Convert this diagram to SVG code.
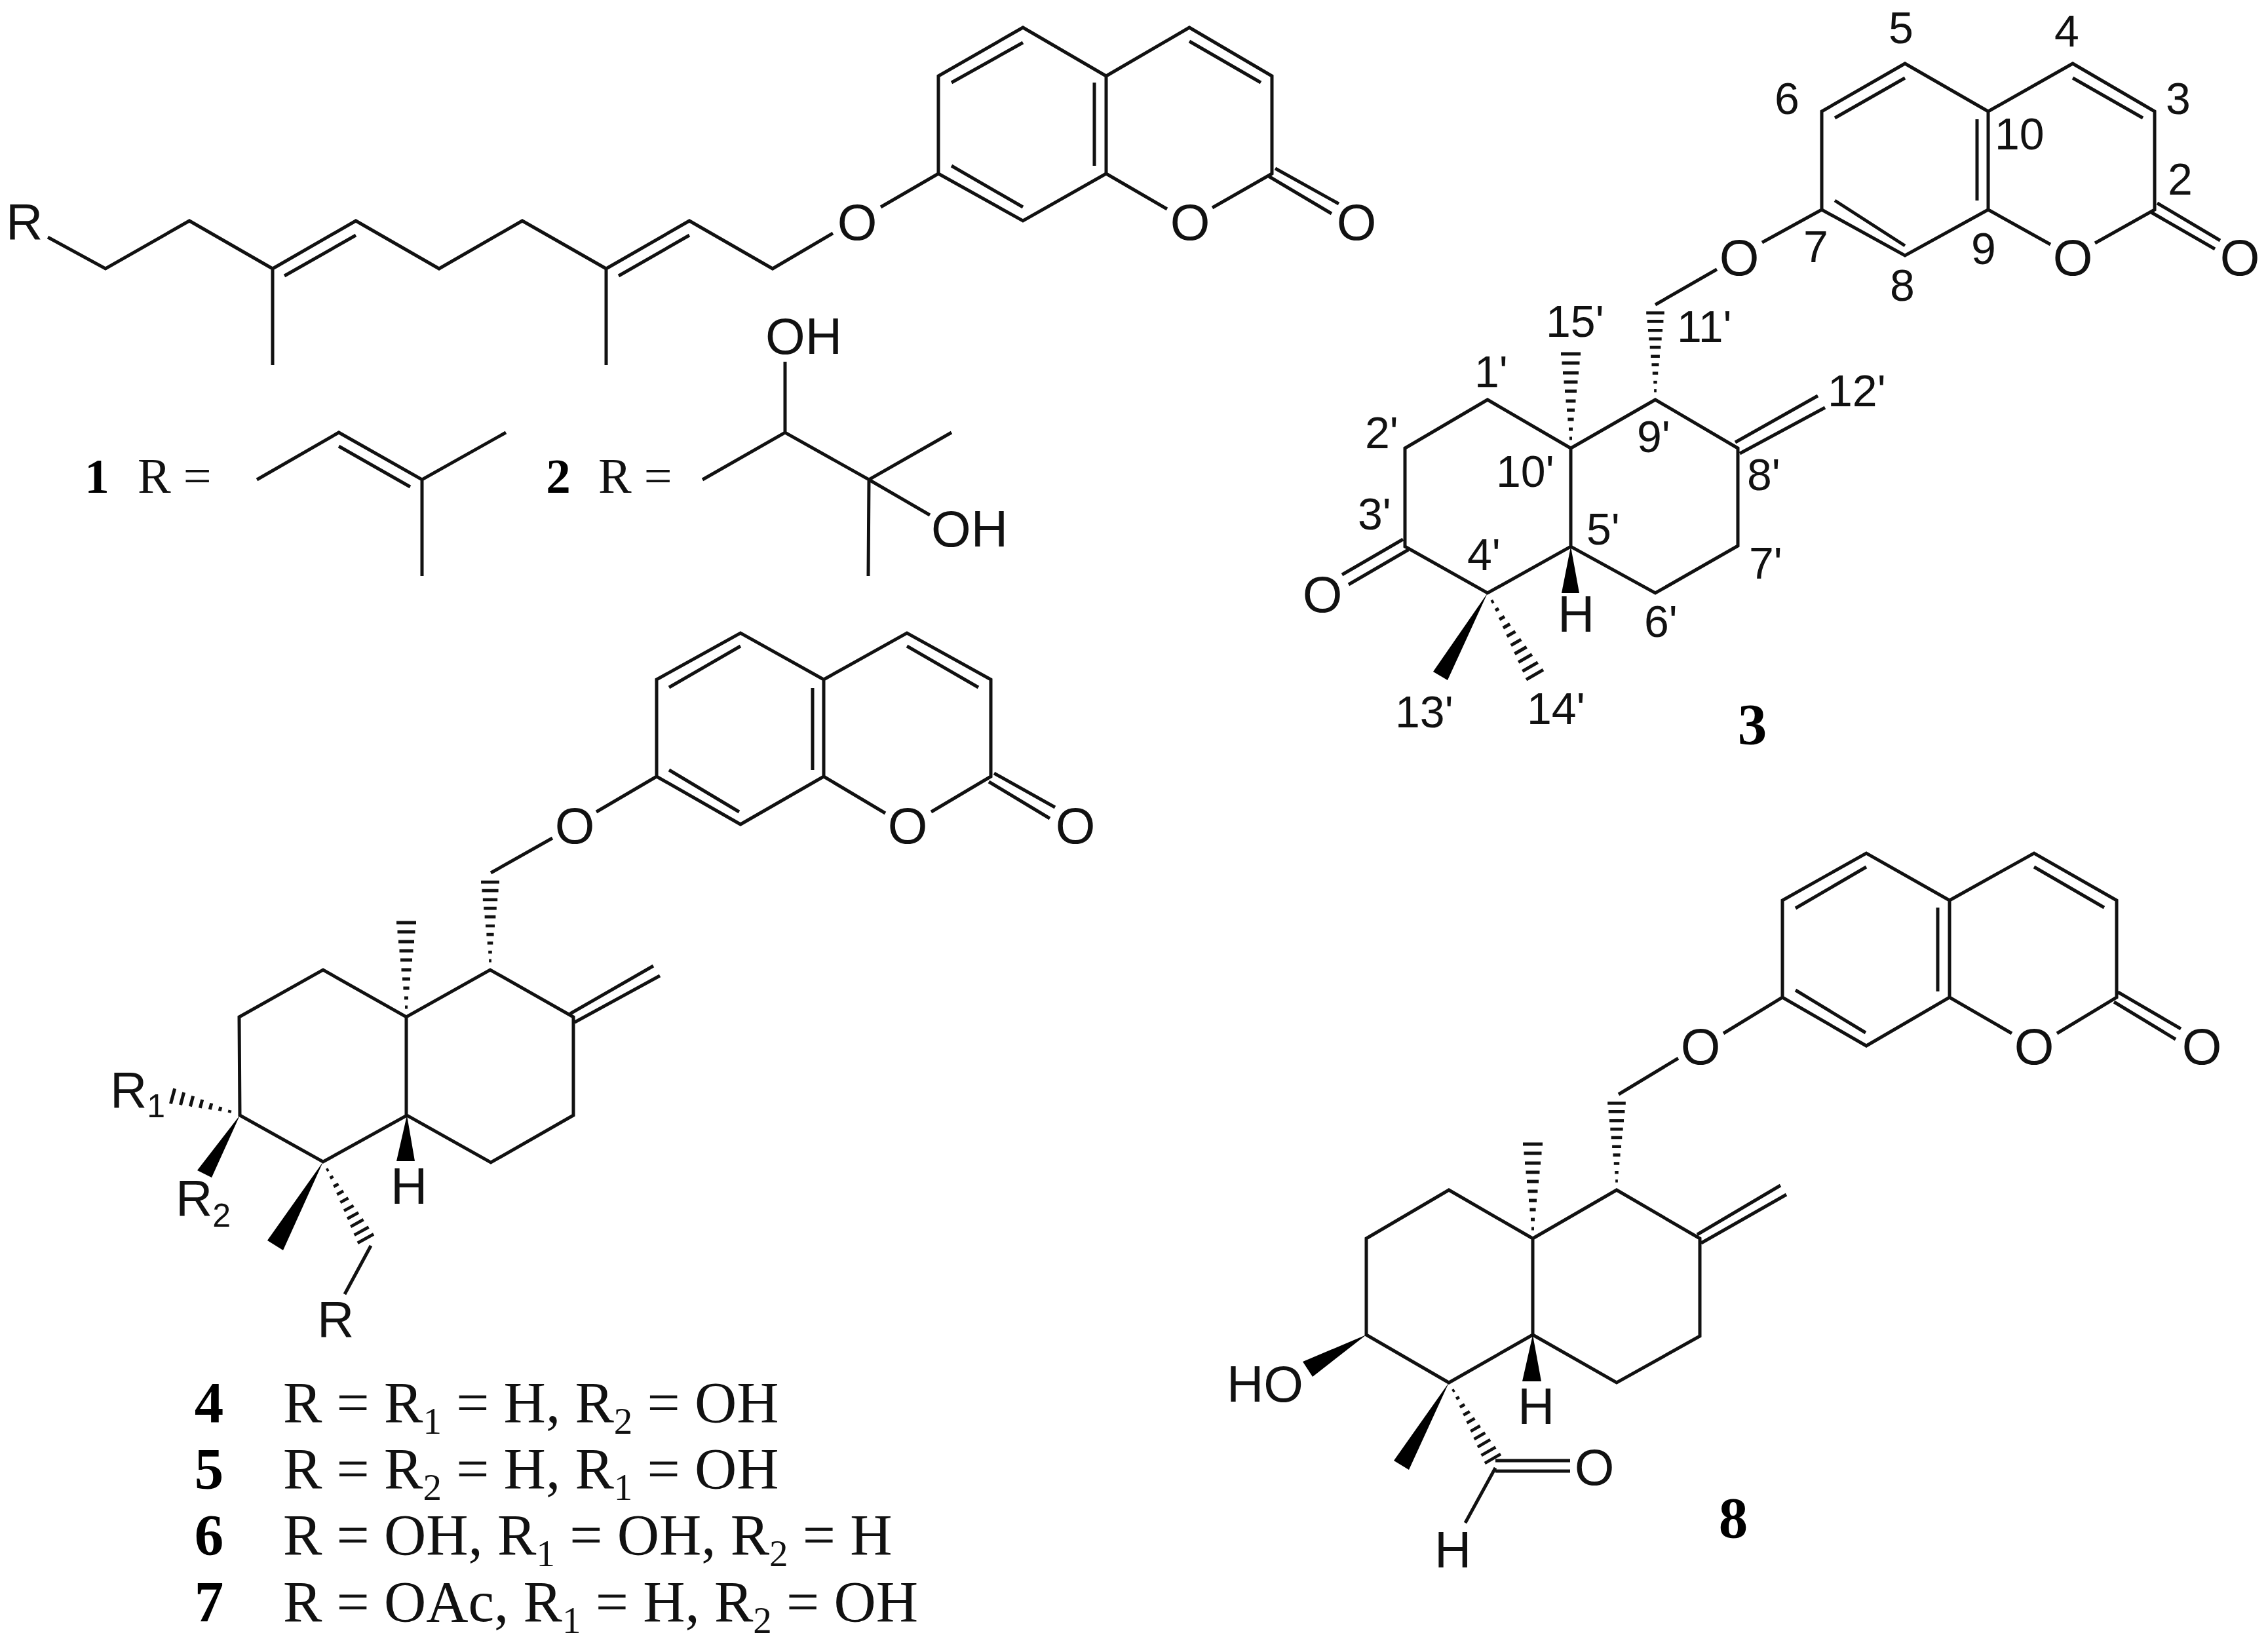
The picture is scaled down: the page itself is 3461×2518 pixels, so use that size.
<svg xmlns="http://www.w3.org/2000/svg" xmlns:xlink="http://www.w3.org/1999/xlink" width="3461" height="2518" viewBox="0 0 3461 2518">
<style>
.b{fill:none;stroke:#111;stroke-width:5;stroke-linejoin:miter}
.w{fill:#000;stroke:none}
.a{font-family:"Liberation Sans",Arial,sans-serif;font-size:78px;fill:#111}
.n{font-family:"Liberation Sans",Arial,sans-serif;font-size:68px;fill:#111}
.m{text-anchor:middle}
.s{font-family:"Liberation Serif","Times New Roman",serif;font-size:89px;fill:#111}
.d{font-family:"Liberation Serif","Times New Roman",serif;font-weight:bold;font-size:89px;fill:#000;text-anchor:middle}
.sub{font-size:57px}
.sb{font-size:50px}
</style>
<defs>
<path id="hash" class="b" d="M-2 -15H2M-3 -29H3M-4.6 -44H4.6M-6 -58H6M-7.5 -72H7.5M-9 -87H9M-10.5 -101H10.5M-12 -115H12M-13.5 -130H13.5M-15 -144H15"/>
<path id="hash7" class="b" d="M-2 -15H2M-3.3 -30H3.3M-5 -45H5M-6.6 -60H6.6M-8.2 -75H8.2M-9.9 -90H9.9M-12 -105H12"/>
</defs>
<rect width="3461" height="2518" fill="#fff"/>
<g id="connectors">
<g id="bonds-1-2">
<path class="b" d="M73 362L161 410L289 337L416 410L543 337L670 410L797 337L925 410L1052 337L1179 410L1271 356M416 410V557M925 410V557M434 421L543 359M944 421L1052 359"/>
<path class="b" d="M1344 316L1432 265V116L1561 42L1688 116V265L1561 337L1432 265M1688 116L1815 42L1941 116V265L1850 317M1688 265L1781 319M1452 126L1561 65M1924 126L1815 63M1670 126V253M1452 253L1561 316M1946 257L2043 311M1936 269L2032 326"/>
<path class="b" d="M392 732L517 660L644 732L772 660M644 732V879M517 681L626 743"/>
<path class="b" d="M1072 732L1198 660L1326 732L1452 660M1198 552V660M1326 732L1419 786M1326 732L1325 879"/>
</g>
<g id="bonds-3">
<path class="b" d="M2689 370L2780 320V170L2907 97L3034 170V320L2907 390L2780 320M3034 170L3163 97L3288 170V320L3197 371M3034 320L3129 373M2800 180L2907 119M3270 180L3163 119M3017 182V306M2800 306L2907 375M3292 310L3388 367M3281 323L3380 380M2526 465L2620 411"/>
<path class="b" d="M2144 684L2270 610L2397 684L2526 610L2652 684V833L2526 905L2397 834L2270 905L2144 834ZM2397 684V834M2648 675L2774 604M2655 692L2785 622M2141 823L2048 877M2149 839L2058 892"/>
<use xlink:href="#hash" href="#hash" transform="translate(2526 610) scale(.92)"/>
<use xlink:href="#hash" href="#hash" transform="translate(2397 684)"/>
<use xlink:href="#hash" href="#hash" transform="translate(2270 905) rotate(150)"/>
<polygon class="w" points="2397,834 2383,905 2410,905"/>
<polygon class="w" points="2270,905 2187,1025 2209,1038"/>
</g>
<g id="bonds-4-7">
<path class="b" d="M843 1279L749 1332M910 1239L1002 1185V1037L1130 966L1257 1037V1185L1130 1258L1002 1185M1257 1037L1384 966L1512 1037V1185L1421 1239M1257 1185L1351 1241M1021 1049L1130 986M1493 1049L1384 986M1240 1050V1175M1021 1175L1128 1239M1517 1180L1610 1232M1509 1193L1602 1249"/>
<path class="b" d="M365 1552L493 1480L620 1552L748 1480L875 1552V1702L749 1774L621 1702L493 1773L366 1702ZM620 1552V1702M870 1547L997 1474M877 1560L1007 1489M566 1901L526 1975"/>
<use xlink:href="#hash" href="#hash" transform="translate(748 1480) scale(.93)"/>
<use xlink:href="#hash" href="#hash" transform="translate(620 1552)"/>
<use xlink:href="#hash" href="#hash" transform="translate(493 1773) rotate(151) scale(.93)"/>
<use xlink:href="#hash7" href="#hash7" transform="translate(365 1700) rotate(-75)"/>
<polygon class="w" points="366,1702 301,1786 323,1797"/>
<polygon class="w" points="493,1773 408,1893 432,1908"/>
<polygon class="w" points="621,1702 605,1772 633,1772"/>
</g>
<g id="bonds-8">
<path class="b" d="M2470 1670L2561 1615M2630 1577L2720 1522V1374L2848 1302L2975 1374V1522L2848 1596L2720 1522M2975 1374L3104 1302L3230 1374V1522L3139 1577M2975 1522L3070 1577M2740 1386L2848 1323M3211 1385L3104 1323M2957 1385V1513M2740 1511L2847 1576M3232 1514L3328 1570M3226 1529L3320 1586"/>
<path class="b" d="M2085 1890L2211 1816L2339 1890L2467 1816L2594 1890V2039L2467 2110L2339 2037L2211 2110L2085 2037ZM2339 1890V2037M2590 1884L2717 1809M2596 1897L2726 1823M2282 2229H2396M2282 2245H2396M2282 2240L2236 2324"/>
<use xlink:href="#hash" href="#hash" transform="translate(2467 1816) scale(.92)"/>
<use xlink:href="#hash" href="#hash" transform="translate(2339 1890)"/>
<use xlink:href="#hash" href="#hash" transform="translate(2211 2110) rotate(150) scale(.93)"/>
<polygon class="w" points="2085,2037 1988,2078 2003,2101"/>
<polygon class="w" points="2339,2037 2323,2108 2352,2108"/>
<polygon class="w" points="2211,2110 2127,2229 2150,2243"/>
</g>
</g>
<g id="compound-1-2-labels">
<text class="a" x="9" y="365">R</text>
<text class="a m" x="1308" y="366">O</text>
<text class="a m" x="1816" y="366">O</text>
<text class="a m" x="2070" y="366">O</text>
<text class="a" x="1168" y="540">OH</text>
<text class="a" x="1421" y="834">OH</text>
<text class="d" style="font-size:75px" x="148" y="752">1</text>
<text class="s" style="font-size:76px" x="210" y="752">R =</text>
<text class="d" style="font-size:75px" x="852" y="752">2</text>
<text class="s" style="font-size:76px" x="913" y="752">R =</text>
</g>
<g id="compound-3-labels">
<text class="a m" x="2654" y="420">O</text>
<text class="a m" x="3163" y="420">O</text>
<text class="a m" x="3418" y="420">O</text>
<text class="a m" x="2018" y="934">O</text>
<text class="a" x="2377" y="964">H</text>
<text class="n" x="2882" y="66">5</text>
<text class="n" x="3135" y="71">4</text>
<text class="n" x="2708" y="174">6</text>
<text class="n" x="3305" y="174">3</text>
<text class="n" x="3044" y="228">10</text>
<text class="n" x="3308" y="297">2</text>
<text class="n" x="2752" y="400">7</text>
<text class="n" x="3008" y="403">9</text>
<text class="n" x="2884" y="459">8</text>
<text class="n" x="2359" y="514">15'</text>
<text class="n" x="2559" y="522">11'</text>
<text class="n" x="2789" y="620">12'</text>
<text class="n" x="2498" y="690">9'</text>
<text class="n" x="2283" y="743">10'</text>
<text class="n" x="2666" y="748">8'</text>
<text class="n" x="2421" y="831">5'</text>
<text class="n" x="2250" y="591">1'</text>
<text class="n" x="2083" y="684">2'</text>
<text class="n" x="2072" y="808">3'</text>
<text class="n" x="2239" y="870">4'</text>
<text class="n" x="2669" y="883">7'</text>
<text class="n" x="2509" y="972">6'</text>
<text class="n" x="2129" y="1110">13'</text>
<text class="n" x="2330" y="1105">14'</text>
<text class="d" x="2674" y="1135">3</text>
</g>
<g id="compound-4-7-labels">
<text class="a m" x="877" y="1287">O</text>
<text class="a m" x="1385" y="1287">O</text>
<text class="a m" x="1641" y="1287">O</text>
<text class="a" x="168" y="1690">R<tspan class="sb" dy="15">1</tspan></text>
<text class="a" x="268" y="1855">R<tspan class="sb" dy="17">2</tspan></text>
<text class="a" x="596" y="1837">H</text>
<text class="a" x="484" y="2040">R</text>
<text class="d" x="319" y="2170">4</text>
<text class="d" x="319" y="2271">5</text>
<text class="d" x="319" y="2372">6</text>
<text class="d" x="319" y="2474">7</text>
<text class="s" x="432" y="2170">R = R<tspan class="sub" dy="18">1</tspan><tspan dy="-18"> = H, R</tspan><tspan class="sub" dy="18">2</tspan><tspan dy="-18"> = OH</tspan></text>
<text class="s" x="432" y="2271">R = R<tspan class="sub" dy="18">2</tspan><tspan dy="-18"> = H, R</tspan><tspan class="sub" dy="18">1</tspan><tspan dy="-18"> = OH</tspan></text>
<text class="s" x="432" y="2372">R = OH, R<tspan class="sub" dy="18">1</tspan><tspan dy="-18"> = OH, R</tspan><tspan class="sub" dy="18">2</tspan><tspan dy="-18"> = H</tspan></text>
<text class="s" x="432" y="2474">R = OAc, R<tspan class="sub" dy="18">1</tspan><tspan dy="-18"> = H, R</tspan><tspan class="sub" dy="18">2</tspan><tspan dy="-18"> = OH</tspan></text>
</g>
<g id="compound-8-labels">
<text class="a m" x="2595" y="1624">O</text>
<text class="a m" x="3104" y="1624">O</text>
<text class="a m" x="3360" y="1624">O</text>
<text class="a m" x="2433" y="2266">O</text>
<text class="a" x="1872" y="2139">HO</text>
<text class="a" x="2316" y="2173">H</text>
<text class="a" x="2189" y="2392">H</text>
<text class="d" x="2645" y="2346">8</text>
</g>
</svg>
